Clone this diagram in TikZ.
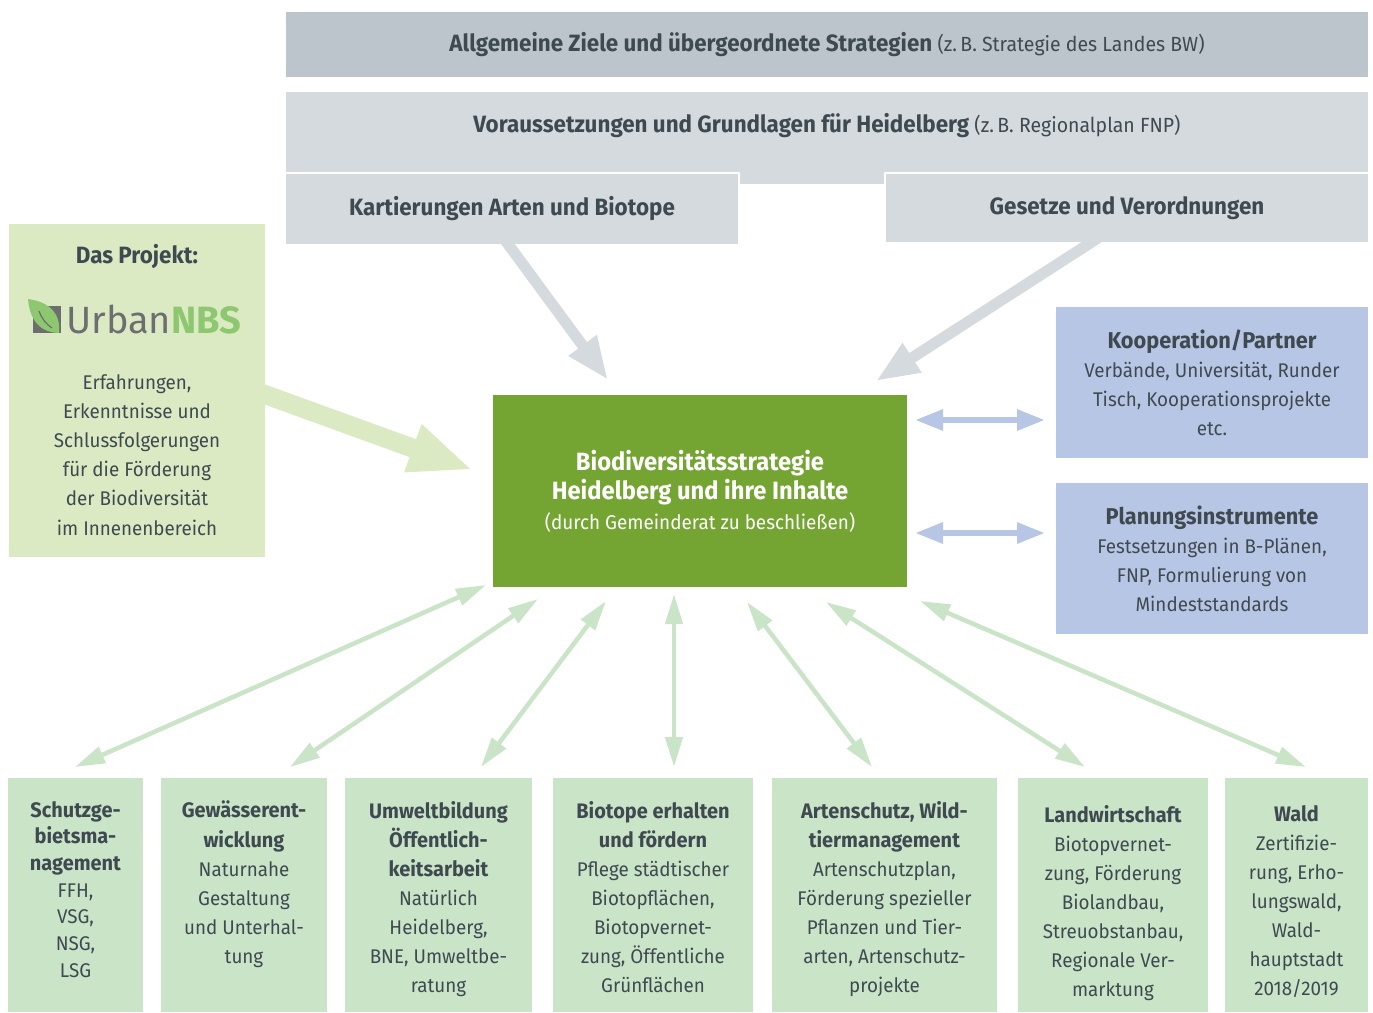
\documentclass[tikz,border=0pt]{standalone}
\usepackage{fontspec}
\setmainfont{Fira Sans}[FakeStretch=0.95]
\newfontfamily\logofont{Fira Sans}
\usetikzlibrary{arrows.meta,positioning}

\definecolor{ink}{HTML}{3F4A50}
\definecolor{grayA}{HTML}{BCC5CC}
\definecolor{grayB}{HTML}{D5DADF}
\definecolor{paleGreen}{HTML}{DBEAC3}
\definecolor{midGreen}{HTML}{74A532}
\definecolor{paleBlue}{HTML}{B8C6E5}
\definecolor{mintGreen}{HTML}{CAE4C8}
\definecolor{logoGray}{HTML}{6D6E70}
\definecolor{logoGreen}{HTML}{8DC870}

\tikzset{
  box/.style={fill=#1, inner sep=0pt, outer sep=0pt, anchor=north west},
  txt/.style={text=ink, align=center, inner sep=0pt},
  body/.style={font=\fontsize{19.8}{29.1}\selectfont},
  title/.style={font=\bfseries\fontsize{23.6}{27}\selectfont},
  fat/.style 2 args={draw=#1, line width=#2},
}

\begin{document}
\begin{tikzpicture}[x=1pt, y=-1pt]
    \useasboundingbox (0,0) rectangle (1373,1012);

    % strategies and basics on top
    \node[box=grayA, minimum width=1082pt, minimum height=65pt] (ziele) at (286,12) {};
    \node[txt, font=\fontsize{20.5}{24}\selectfont] (zieleT) at (ziele.center)
        {{\bfseries\fontsize{23.6}{27}\selectfont Allgemeine Ziele und übergeordnete Strategien} (z.\,B. Strategie des Landes BW)};
    \node[box=grayB, minimum width=1082pt, minimum height=80pt] (vor) at (286,92) {};
    \fill[grayB] (740,170) rectangle (884,184);
    \node[txt, font=\fontsize{20.5}{24}\selectfont] (vorT) at (827,126)
        {{\bfseries\fontsize{23.6}{27}\selectfont Voraussetzungen und Grundlagen für Heidelberg} (z.\,B. Regionalplan FNP)};
    \node[box=grayB, minimum width=452pt, minimum height=70pt, text=ink, title] (kart) at (286,174) {Kartierungen Arten und Biotope};
    \node[box=grayB, minimum width=482pt, minimum height=68pt, text=ink, title] (ges) at (886,174) {Gesetze und Verordnungen};

    % the project
    \node[box=paleGreen, minimum width=256pt, minimum height=333pt] (proj) at (9,224) {};
    \node[txt, title] (projT) at (137,257) {Das Projekt:};
    \fill[logoGray] (33,306) rectangle (61,333);
    \fill[logoGreen] (28,299) .. controls (50,302) and (61,314) .. (59,333) .. controls (44,333) and (30,324) .. (28,299);
    \draw[logoGray, line width=1.2pt] (39,311) .. controls (42,319) and (46,324) .. (52,328);
    \node[inner sep=0pt, anchor=west] (logo) at (66,320)
        {\logofont\fontsize{38}{38}\selectfont\color{logoGray}Urban\textcolor{logoGreen}{\bfseries NBS}};
    \node[txt, body] (projB) at (137,455)
        {Erfahrungen,\\Erkenntnisse und\\Schlussfolgerungen\\für die Förderung\\der Biodiversität\\im Innenenbereich};

    % the strategy
    \node[box=midGreen, minimum width=414pt, minimum height=192pt, text=white, align=center,
        font=\bfseries\fontsize{25}{29.5}\selectfont] (mid) at (493,395)
        {Biodiversitätsstrategie\\Heidelberg und ihre Inhalte\\{\mdseries\fontsize{19.9}{29.5}\selectfont (durch Gemeinderat zu beschließen)}};

    % partners and planning
    \node[box=paleBlue, minimum width=312pt, minimum height=151pt, text=ink, align=center, body] (koop) at (1056,307)
        {{\bfseries\fontsize{22.9}{29.7}\selectfont Kooperation/Partner}\\Verbände, Universität, Runder\\Tisch, Kooperationsprojekte\\etc.};
    \node[box=paleBlue, minimum width=312pt, minimum height=151pt, text=ink, align=center, body] (plan) at (1056,483)
        {{\bfseries\fontsize{22.9}{29.7}\selectfont Planungsinstrumente}\\Festsetzungen in B-Plänen,\\FNP, Formulierung von\\Mindeststandards};

    % fields of action
    \foreach \i/\x/\w in {1/8/135, 2/161/166, 3/345/187, 4/553/200, 5/772/225, 6/1018/190, 7/1225/143}
        \node[box=mintGreen, minimum width=\w pt, minimum height=234pt] (b\i) at (\x,778) {};

    \node[txt, font=\fontsize{19.8}{26.7}\selectfont, below=23pt of b1.north] (t1)
        {\textbf{\fontsize{21}{26.7}\selectfont Schutzge-}\\\textbf{\fontsize{21}{26.7}\selectfont bietsma-}\\\textbf{\fontsize{21}{26.7}\selectfont nagement}\\FFH,\\VSG,\\NSG,\\LSG};
    \node[txt, body, below=23pt of b2.north] (t2)
        {\textbf{\fontsize{21}{29.1}\selectfont Gewässerent-}\\\textbf{\fontsize{21}{29.1}\selectfont wicklung}\\Naturnahe\\Gestaltung\\und Unterhal-\\tung};
    \node[txt, body, below=23pt of b3.north] (t3)
        {\textbf{\fontsize{21}{29.1}\selectfont Umweltbildung}\\\textbf{\fontsize{21}{29.1}\selectfont Öffentlich-}\\\textbf{\fontsize{21}{29.1}\selectfont keitsarbeit}\\Natürlich\\Heidelberg,\\BNE, Umweltbe-\\ratung};
    \node[txt, body, below=23pt of b4.north] (t4)
        {\textbf{\fontsize{21}{29.1}\selectfont Biotope erhalten}\\\textbf{\fontsize{21}{29.1}\selectfont und fördern}\\Pflege städtischer\\Biotopflächen,\\Biotopvernet-\\zung, Öffentliche\\Grünflächen};
    \node[txt, body, below=23pt of b5.north] (t5)
        {\textbf{\fontsize{21}{29.1}\selectfont Artenschutz, Wild-}\\\textbf{\fontsize{21}{29.1}\selectfont tiermanagement}\\Artenschutzplan,\\Förderung spezieller\\Pflanzen und Tier-\\arten, Artenschutz-\\projekte};
    \node[txt, body, below=27pt of b6.north] (t6)
        {\textbf{\fontsize{21}{29.1}\selectfont Landwirtschaft}\\Biotopvernet-\\zung, Förderung\\Biolandbau,\\Streuobstanbau,\\Regionale Ver-\\marktung};
    \node[txt, body, below=27pt of b7.north] (t7)
        {\textbf{\fontsize{21}{29.1}\selectfont Wald}\\Zertifizie-\\rung, Erho-\\lungswald,\\Wald-\\hauptstadt\\2018/2019};

    % arrows into the strategy
    \coordinate (kTip) at (608,380);
    \coordinate (gTip) at (876,381);
    \coordinate (pTip) at (473,470);
    \draw[fat={grayB}{11pt}, -{Triangle[width=32pt,length=43pt]}] ([xshift=-7pt,yshift=4pt]kart.south) -- (kTip);
    \draw[fat={grayB}{11pt}, -{Triangle[width=32pt,length=43pt]}] ([xshift=-29pt,yshift=4pt]ges.south) -- (gTip);
    \draw[fat={paleGreen}{19pt}, -{Triangle[width=46pt,length=64pt]}] ([xshift=-7pt,yshift=-1.5pt]proj.east) -- (pTip);

    \coordinate (kA) at (915,420);
    \coordinate (kB) at (1045,420);
    \coordinate (pA) at (915,533);
    \coordinate (pB) at (1045,533);
    \draw[fat={paleBlue}{6pt}, {Triangle[width=20pt,length=28pt]}-{Triangle[width=20pt,length=28pt]}] (kA) -- (kB);
    \draw[fat={paleBlue}{6pt}, {Triangle[width=20pt,length=28pt]}-{Triangle[width=20pt,length=28pt]}] (pA) -- (pB);

    \foreach \i/\xa/\ya/\xb in {1/486/585/75, 2/538/599/290, 3/606/601/481, 4/674/594/674, 5/747/602/872, 6/826/602/1085, 7/920/601/1306} {
        \coordinate (up\i) at (\xa,\ya);
        \coordinate (dn\i) at (\xb,767);
        \draw[fat={mintGreen}{4.5pt}, {Triangle[width=17pt,length=30pt]}-{Triangle[width=17pt,length=30pt]}] (up\i) -- (dn\i);
    }
\end{tikzpicture}
\end{document}
